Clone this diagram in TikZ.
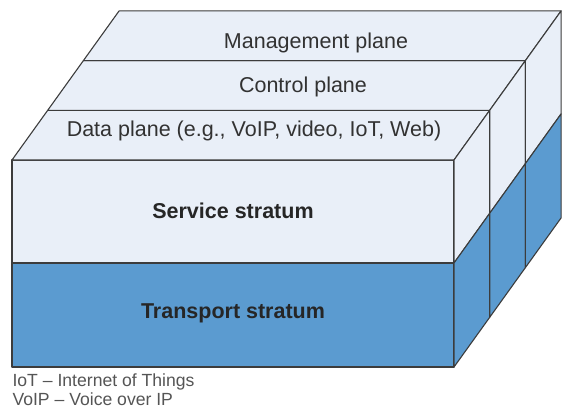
\documentclass[tikz,border=0pt]{standalone}
\usepackage{fontspec}
\setmainfont{Liberation Sans}
\usetikzlibrary{calc}

\definecolor{planefill}{RGB}{233,239,248}
\definecolor{stratumblue}{RGB}{91,155,208}
\definecolor{edgegray}{RGB}{60,60,60}
\definecolor{labelgray}{RGB}{50,50,50}
\definecolor{notegray}{RGB}{85,85,85}

\begin{document}
\begin{tikzpicture}[x=1pt, y=-1pt, line width=1.1pt, line join=round,
  face/.style={draw=edgegray, fill=planefill},
  blueface/.style={draw=edgegray, fill=stratumblue},
  plane/.style={font=\fontsize{21.5}{24}\selectfont, text=labelgray},
  stratum/.style={font=\fontsize{21.5}{24}\selectfont\bfseries, text=black!85},
  note/.style={font=\fontsize{17.6}{19}\selectfont, text=notegray, align=left, inner sep=0pt}]

  \useasboundingbox (0,0) rectangle (565,412);
  \def\dx{35.7}
  \def\dy{49.7}

  % Front corners
  \coordinate (FTL) at (12,160);
  \coordinate (FTR) at (454,160);
  \coordinate (FML) at (12,263);
  \coordinate (FMR) at (454,263);
  \coordinate (FBL) at (12,367);
  \coordinate (FBR) at (454,367);

  % Front face
  \draw[face] (FTL) rectangle (FMR);
  \draw[blueface] (FML) rectangle (FBR);

  % Top slabs
  \draw[face] (FTL) -- (FTR) -- ++(\dx,-\dy) -- ($(FTL)+(\dx,-\dy)$) -- cycle;
  \draw[face] ($(FTL)+(\dx,-\dy)$) -- ($(FTR)+(\dx,-\dy)$) -- ($(FTR)+(2*\dx,-2*\dy)$) -- ($(FTL)+(2*\dx,-2*\dy)$) -- cycle;
  \draw[face] ($(FTL)+(2*\dx,-2*\dy)$) -- ($(FTR)+(2*\dx,-2*\dy)$) -- ($(FTR)+(3*\dx,-3*\dy)$) -- ($(FTL)+(3*\dx,-3*\dy)$) -- cycle;

  % Right side, upper part
  \draw[face] (FTR) -- ++(\dx,-\dy) -- ($(FMR)+(\dx,-\dy)$) -- (FMR) -- cycle;
  \draw[face] ($(FTR)+(\dx,-\dy)$) -- ($(FTR)+(2*\dx,-2*\dy)$) -- ($(FMR)+(2*\dx,-2*\dy)$) -- ($(FMR)+(\dx,-\dy)$) -- cycle;
  \draw[face] ($(FTR)+(2*\dx,-2*\dy)$) -- ($(FTR)+(3*\dx,-3*\dy)$) -- ($(FMR)+(3*\dx,-3*\dy)$) -- ($(FMR)+(2*\dx,-2*\dy)$) -- cycle;

  % Right side, lower part
  \draw[blueface] (FMR) -- ++(\dx,-\dy) -- ($(FBR)+(\dx,-\dy)$) -- (FBR) -- cycle;
  \draw[blueface] ($(FMR)+(\dx,-\dy)$) -- ($(FMR)+(2*\dx,-2*\dy)$) -- ($(FBR)+(2*\dx,-2*\dy)$) -- ($(FBR)+(\dx,-\dy)$) -- cycle;
  \draw[blueface] ($(FMR)+(2*\dx,-2*\dy)$) -- ($(FMR)+(3*\dx,-3*\dy)$) -- ($(FBR)+(3*\dx,-3*\dy)$) -- ($(FBR)+(2*\dx,-2*\dy)$) -- cycle;

  % Labels
  \node[plane] (mgmt) at (316,43) {Management plane};
  \node[plane] (ctrl) at (303,87) {Control plane};
  \node[plane] (data) at (254,131) {Data plane (e.g., VoIP, video, IoT, Web)};
  \node[stratum] (service) at (233,211) {Service stratum};
  \node[stratum] (transport) at (233,313) {Transport stratum};

  % Abbreviations
  \node[note, anchor=north west] (notes) at (12,373) {IoT \textendash{} Internet of Things\\VoIP \textendash{} Voice over IP};

\end{tikzpicture}
\end{document}
